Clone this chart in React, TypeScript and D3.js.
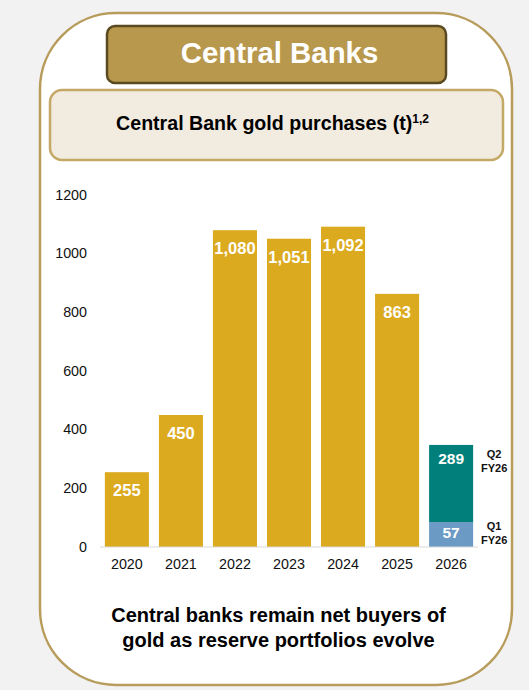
import React, { useEffect, useRef } from 'react';
import * as d3 from 'd3';

const years = ['2020', '2021', '2022', '2023', '2024', '2025', '2026'];
const goldValues = [255, 450, 1080, 1051, 1092, 863, 0];
// drawn heights of the 2026 segments, the printed labels differ
const q1Heights = [0, 0, 0, 0, 0, 0, 85];
const q2Heights = [0, 0, 0, 0, 0, 0, 263];
const yTicks = [0, 200, 400, 600, 800, 1000, 1200];
const segmentLabels = [
  { key: 'Q2', sub: 'FY26', value: 289 },
  { key: 'Q1', sub: 'FY26', value: 57 },
];

const FONT = '"Liberation Sans", Arial, sans-serif';

const App = () => {
  const axisRef = useRef<SVGGElement>(null);
  const barsRef = useRef<SVGGElement>(null);

  useEffect(() => {
    if (!axisRef.current || !barsRef.current) return;

    const x = d3.scaleBand().domain(years).range([100, 478]).paddingInner(0.185).paddingOuter(0.09);
    const y = d3.scaleLinear().domain([0, 1200]).range([547, 195]);

    // y axis is labels only, no line or ticks
    const axis = d3.select(axisRef.current);
    axis.selectAll('*').remove();
    axis.selectAll('text.ytick')
      .data(yTicks)
      .enter()
      .append('text')
      .attr('class', 'ytick')
      .attr('x', 87)
      .attr('y', d => y(d) + 4.5)
      .attr('text-anchor', 'end')
      .attr('font-size', 14.3)
      .attr('fill', '#111')
      .text(d => d);

    axis.selectAll('text.xtick')
      .data(years)
      .enter()
      .append('text')
      .attr('class', 'xtick')
      .attr('x', d => x(d)! + x.bandwidth() / 2)
      .attr('y', 569)
      .attr('text-anchor', 'middle')
      .attr('font-size', 14.3)
      .attr('fill', '#111')
      .text(d => d);

    const bars = d3.select(barsRef.current);
    bars.selectAll('*').remove();

    const goldData = years.map((year, i) => ({ year, value: goldValues[i] })).filter(d => d.value > 0);

    bars.selectAll('rect.gold')
      .data(goldData)
      .enter()
      .append('rect')
      .attr('class', 'gold')
      .attr('x', d => x(d.year)!)
      .attr('y', d => y(d.value))
      .attr('width', x.bandwidth())
      .attr('height', d => y(0) - y(d.value))
      .attr('fill', '#dcaa1f');

    bars.selectAll('text.gold-label')
      .data(goldData)
      .enter()
      .append('text')
      .attr('class', 'gold-label')
      .attr('x', d => x(d.year)! + x.bandwidth() / 2)
      .attr('y', d => y(d.value) + 24)
      .attr('text-anchor', 'middle')
      .attr('font-size', 16.5)
      .attr('font-weight', 700)
      .attr('fill', '#fff')
      .text(d => d3.format(',')(d.value));

    // stacked 2026 bar
    const stackData = years.map((year, i) => ({ year, q1: q1Heights[i], q2: q2Heights[i] })).filter(d => d.q1 + d.q2 > 0);
    const series = d3.stack<any>().keys(['q1', 'q2'])(stackData);
    const colors: Record<string, string> = { q1: '#6b9ac4', q2: '#007f7b' };

    series.forEach(s => {
      s.forEach(p => {
        const year = (p.data as any).year;
        const cx = x(year)! + x.bandwidth() / 2;
        bars.append('rect')
          .attr('x', x(year)!)
          .attr('y', y(p[1]))
          .attr('width', x.bandwidth())
          .attr('height', y(p[0]) - y(p[1]))
          .attr('fill', colors[s.key]);

        const item = segmentLabels.find(l => l.key === s.key.toUpperCase())!;
        const top = y(p[1]);
        const labelY = s.key === 'q2' ? top + 19 : top + 16;
        bars.append('text')
          .attr('x', cx)
          .attr('y', labelY)
          .attr('text-anchor', 'middle')
          .attr('font-size', 15.5)
          .attr('font-weight', 700)
          .attr('fill', '#fff')
          .text(item.value);

        const sideX = cx + 43;
        const sideY = s.key === 'q2' ? top + 13 : top + 7.5;
        bars.append('text')
          .attr('x', sideX)
          .attr('y', sideY)
          .attr('text-anchor', 'middle')
          .attr('font-size', 11)
          .attr('font-weight', 700)
          .attr('fill', '#111')
          .text(item.key);
        bars.append('text')
          .attr('x', sideX)
          .attr('y', sideY + 14.5)
          .attr('text-anchor', 'middle')
          .attr('font-size', 11)
          .attr('font-weight', 700)
          .attr('fill', '#111')
          .text(item.sub);
      });
    });

    // baseline on top of the gold bars, only visible past the bar edges
    bars.append('line')
      .attr('x1', 100)
      .attr('x2', 478)
      .attr('y1', y(0))
      .attr('y2', y(0))
      .attr('stroke', '#d9d9d9')
      .attr('stroke-width', 1);
  }, []);

  return (
    <div style={{ position: 'fixed', left: 0, top: 0, width: 529, height: 690, background: '#f2f2f2' }}>
      <svg width={529} height={690} viewBox="0 0 529 690" style={{ display: 'block', fontFamily: FONT }}>
        <rect x={40} y={13} width={472} height={672} rx={76} ry={76} fill="#fff" stroke="#b89c5c" strokeWidth={2.5} />
        <rect x={107} y={26} width={339} height={57} rx={8} ry={8} fill="#b8984d" stroke="#5a4a22" strokeWidth={2.5} />
        <text x={279.5} y={63} textAnchor="middle" fontSize={29.4} fontWeight={700} fill="#fff">Central Banks</text>
        <rect x={50} y={90} width={453} height={70} rx={12} ry={12} fill="#f2ebe0" stroke="#c4a966" strokeWidth={2.5} />
        <text x={272.5} y={130} textAnchor="middle" fontSize={19.6} fontWeight={700} fill="#000">
          Central Bank gold purchases (t)
          <tspan fontSize={12} dy={-7}>1,2</tspan>
        </text>
        <g ref={axisRef} />
        <g ref={barsRef} />
        <text x={278.5} y={622} textAnchor="middle" fontSize={20} fontWeight={700} fill="#000">Central banks remain net buyers of</text>
        <text x={278.5} y={647} textAnchor="middle" fontSize={20} fontWeight={700} fill="#000">gold as reserve portfolios evolve</text>
      </svg>
    </div>
  );
};

export default App;
